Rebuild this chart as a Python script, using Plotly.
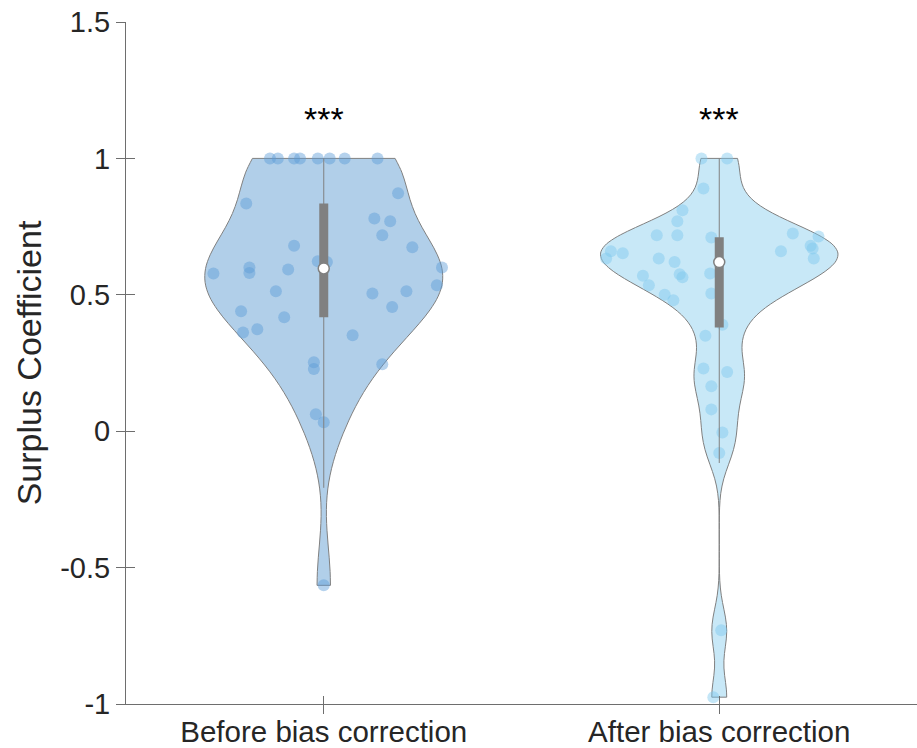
import numpy as np
import plotly.graph_objects as go

categories = ["Before bias correction", "After bias correction"]
positions = [1, 2]

before_values = [1.0, 1.0, 1.0, 1.0, 1.0, 1.0, 1.0, 1.0,
                 0.835, 0.872, 0.78, 0.77, 0.718, 0.674, 0.68, 0.623, 0.62, 0.60,
                 0.58, 0.578, 0.593, 0.60, 0.535, 0.513, 0.505, 0.513, 0.455, 0.44,
                 0.418, 0.374, 0.362, 0.352, 0.253, 0.228, 0.245, 0.062, 0.033, -0.565]
before_jitter = [-0.136, -0.116, -0.075, -0.06, -0.015, 0.015, 0.053, 0.136,
                 -0.196, 0.188, 0.128, 0.168, 0.148, 0.224, -0.075, -0.015, 0.008, -0.188,
                 -0.188, -0.279, -0.09, 0.299, 0.286, -0.121, 0.123, 0.209, 0.173, -0.209,
                 -0.1, -0.168, -0.204, 0.073, -0.025, -0.025, 0.148, -0.02, 0.0, 0.0]

after_values = [1.0, 1.0, 0.89, 0.81, 0.77, 0.718, 0.718, 0.71, 0.725, 0.714,
                0.68, 0.67, 0.66, 0.66, 0.633, 0.652, 0.633, 0.62, 0.633, 0.575,
                0.564, 0.57, 0.535, 0.578, 0.50, 0.48, 0.505, 0.39, 0.35, 0.23,
                0.217, 0.165, 0.08, -0.005, -0.08, -0.73, -0.975]
after_jitter = [-0.045, 0.02, -0.04, -0.093, -0.106, -0.158, -0.106, -0.02, 0.186, 0.251,
                0.231, 0.236, 0.156, -0.274, -0.286, -0.244, -0.153, -0.113, 0.239, -0.1,
                -0.093, -0.193, -0.178, -0.023, -0.138, -0.116, -0.02, 0.008, -0.035, -0.04,
                0.02, -0.02, -0.02, 0.008, 0.0, 0.005, -0.015]

significance = ["***", "***"]
significance_y = [1.146, 1.146]

y_ticks = [-1, -0.5, 0, 0.5, 1, 1.5]
y_ticklabels = ["-1", "-0.5", "0", "0.5", "1", "1.5"]

fill_colors = ["rgba(100,160,212,0.5)", "rgba(145,210,240,0.5)"]
point_colors = ["rgba(90,155,215,0.45)", "rgba(125,200,238,0.45)"]
edge_color = "#808080"
axis_color = "#6e6e6e"
text_color = "#262626"
font_family = "Liberation Sans, Arial, Helvetica, sans-serif"


def matlab_bw(x):
    x = np.asarray(x, dtype=float)
    n = len(x)
    sig = np.median(np.abs(x - np.median(x))) / 0.6745
    return sig * (4.0 / (3.0 * n)) ** 0.2


def box_stats(x):
    x = np.asarray(x, dtype=float)
    q1, med, q3 = np.quantile(x, [0.25, 0.5, 0.75], method="hazen")
    iqr = q3 - q1
    lo = max(q1 - 1.5 * iqr, x.min())
    hi = min(q3 + 1.5 * iqr, x.max())
    return q1, med, q3, lo, hi


fig = go.Figure()
datasets = [(before_values, before_jitter), (after_values, after_jitter)]
for i, (vals, jit) in enumerate(datasets):
    pos = positions[i]
    fig.add_trace(go.Violin(
        x0=pos, y=vals, name=categories[i], orientation="v",
        points=False, box_visible=False, meanline_visible=False,
        spanmode="hard", scalemode="width", width=0.6,
        bandwidth=matlab_bw(vals),
        fillcolor=fill_colors[i], line=dict(color=edge_color, width=1),
        hoverinfo="skip", showlegend=False))
    fig.add_trace(go.Scatter(
        x=[pos + j for j in jit], y=vals, mode="markers",
        marker=dict(size=12, color=point_colors[i], line=dict(width=0)),
        showlegend=False, hoverinfo="skip"))
    q1, med, q3, lo, hi = box_stats(vals)
    fig.add_trace(go.Scatter(
        x=[pos, pos], y=[lo, hi], mode="lines",
        line=dict(color=edge_color, width=1), showlegend=False, hoverinfo="skip"))
    fig.add_trace(go.Scatter(
        x=[pos, pos], y=[q1, q3], mode="lines",
        line=dict(color=edge_color, width=9), showlegend=False, hoverinfo="skip"))
    fig.add_trace(go.Scatter(
        x=[pos], y=[med], mode="markers",
        marker=dict(size=11, color="white", line=dict(color=edge_color, width=1.5)),
        showlegend=False, hoverinfo="skip"))

# empty trace so the overlay axes (inner half of the crossing ticks) are drawn
fig.add_trace(go.Scatter(x=[], y=[], xaxis="x2", yaxis="y2", showlegend=False))

for i in range(2):
    fig.add_annotation(x=positions[i], y=significance_y[i], text=significance[i],
                       showarrow=False, font=dict(size=34, color="black", family=font_family),
                       xref="x", yref="y")

fig.update_layout(
    width=917, height=748,
    margin=dict(l=126, r=0, t=22, b=44),
    paper_bgcolor="white", plot_bgcolor="white",
    font=dict(family=font_family, color=text_color),
    xaxis=dict(range=[0.5, 2.5], tickvals=positions, ticktext=categories,
               showgrid=False, zeroline=False, showline=True, linecolor=axis_color,
               linewidth=1, ticks="outside", ticklen=9, tickcolor=axis_color,
               tickfont=dict(size=29.5, color=text_color), ticklabelstandoff=-7,
               automargin=False),
    yaxis=dict(range=[-1, 1.5], tickvals=y_ticks, ticktext=y_ticklabels,
               showgrid=False, zeroline=False, showline=True, linecolor=axis_color,
               linewidth=1, ticks="outside", ticklen=9, tickcolor=axis_color,
               tickfont=dict(size=29, color=text_color), ticklabelstandoff=0,
               automargin=False,
               title=dict(text="Surplus Coefficient", font=dict(size=34, color=text_color),
                          standoff=8)),
    xaxis2=dict(range=[0.5, 2.5], tickvals=positions, overlaying="x", anchor="y2",
                showticklabels=False, showgrid=False, zeroline=False, showline=False,
                ticks="inside", ticklen=8, tickcolor=axis_color, automargin=False),
    yaxis2=dict(range=[-1, 1.5], tickvals=y_ticks, overlaying="y", anchor="x2",
                showticklabels=False, showgrid=False, zeroline=False, showline=False,
                ticks="inside", ticklen=9, tickcolor=axis_color, automargin=False),
)

fig.write_html("out.html", config={"displayModeBar": False},
               post_script="document.body.style.margin='0';document.body.style.overflow='hidden';")
